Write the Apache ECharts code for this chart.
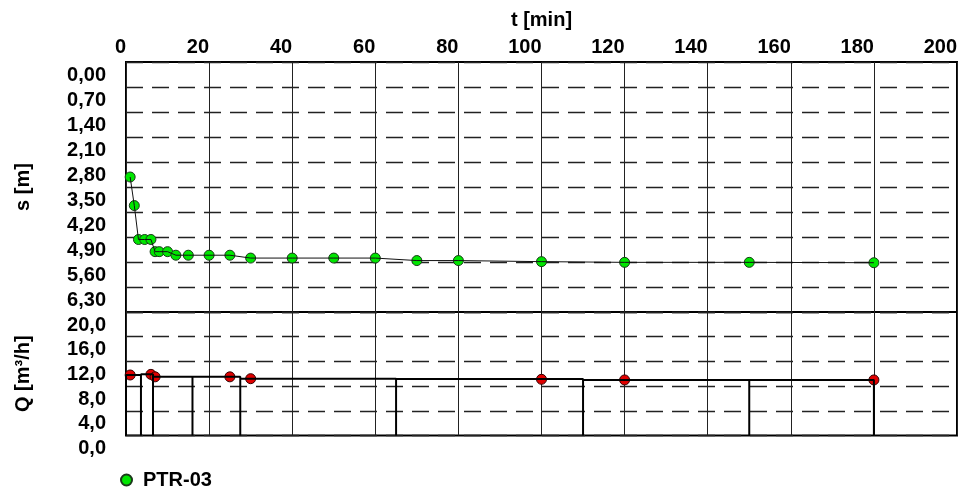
<!DOCTYPE html>
<html>
<head>
<meta charset="utf-8">
<script src="https://cdn.jsdelivr.net/npm/echarts@6/dist/echarts.min.js"></script>
<style>html,body{margin:0;padding:0;background:#fff}#c{width:961px;height:487px}</style>
</head>
<body>
<div id="c"></div>
<script>
// ---- data ----
const seriesName = 'PTR-03';
// drawdown s [m] vs time t [min]
const tMin = [1, 2, 3, 4.5, 6, 7, 8, 10, 12, 15, 20, 25, 30, 40, 50, 60, 70, 80, 100, 120, 150, 180];
const sM   = [3.22, 4.02, 4.97, 4.97, 4.97, 5.31, 5.31, 5.31, 5.41, 5.41, 5.41, 5.41, 5.49, 5.49, 5.49, 5.49, 5.56, 5.56, 5.59, 5.61, 5.61, 5.62];
// discharge Q [m3/h] measurements
const qT = [1, 6, 7, 25, 30, 100, 120, 180];
const qV = [9.8, 9.9, 9.5, 9.5, 9.2, 9.1, 9.0, 9.0];
// discharge step periods (end time of each period and its rate)
const qStepEnd   = [3.6, 6.5, 16, 27.5, 65, 110, 150, 180];
const qStepLevel = [9.8, 9.9, 9.5, 9.5, 9.2, 9.15, 9.0, 9.0];
// axis ticks
const tTicks = {min: 0, max: 200, interval: 20};
const sTicks = {min: 0, max: 7, interval: 0.7};
const qTicks = {min: 0, max: 20, interval: 4};

// ---- build ----
const sData = tMin.map((t, i) => [t, sM[i]]);
const qData = qT.map((t, i) => [t, qV[i]]);
const stepData = [[0, 0], [0, qStepLevel[0]]];
qStepEnd.forEach((e, i) => {
  stepData.push([e, qStepLevel[i]]);
  stepData.push([e, 0]);
  if (i + 1 < qStepEnd.length) stepData.push([e, qStepLevel[i + 1]]);
});

const FONT = 'Liberation Sans, Arial, sans-serif';
const txt = {fontFamily: FONT, fontWeight: 'bold', fontSize: 20, color: '#000'};
const dashed = {show: true, lineStyle: {color: '#222', width: 1.3, type: [17, 9]}};
const solid = {show: true, lineStyle: {color: '#222', width: 1, type: 'solid'}};

const chart = echarts.init(document.getElementById('c'), null, {renderer: 'canvas'});
chart.setOption({
  animation: false,
  backgroundColor: '#fff',
  grid: [
    {left: 126, top: 62, width: 831, height: 250, show: true, borderColor: '#000', borderWidth: 2, backgroundColor: 'transparent'},
    {left: 126, top: 312, width: 831, height: 123.5, show: true, borderColor: '#000', borderWidth: 2, backgroundColor: 'transparent'}
  ],
  legend: {
    data: [seriesName],
    left: 115, top: 465,
    icon: 'circle', itemWidth: 11, itemHeight: 11,
    textStyle: Object.assign({}, txt, {padding: [0, 0, 0, 6]})
  },
  xAxis: [
    {gridIndex: 0, type: 'value', position: 'top', min: tTicks.min, max: tTicks.max, interval: tTicks.interval,
     name: 't [min]', nameLocation: 'middle', nameGap: 32, nameTextStyle: txt,
     axisLine: {show: false}, axisTick: {show: false}, splitLine: solid,
     axisLabel: Object.assign({}, txt, {align: 'right', margin: 5, showMinLabel: true, showMaxLabel: true, hideOverlap: false})},
    {gridIndex: 1, type: 'value', position: 'bottom', min: tTicks.min, max: tTicks.max, interval: tTicks.interval,
     axisLine: {show: false}, axisTick: {show: false}, axisLabel: {show: false}, splitLine: solid}
  ],
  yAxis: [
    {gridIndex: 0, type: 'value', inverse: true, min: sTicks.min, max: sTicks.max, interval: sTicks.interval,
     name: 's [m]', nameLocation: 'middle', nameGap: 93, nameTextStyle: txt,
     axisLine: {show: false}, axisTick: {show: false}, splitLine: dashed,
     axisLabel: Object.assign({}, txt, {margin: 20, verticalAlign: 'top', padding: [3, 0, 0, 0], lineHeight: 20, hideOverlap: false,
       showMinLabel: true, showMaxLabel: true,
       formatter: v => (Math.abs(v - sTicks.max) < 1e-6 ? '' : v.toFixed(2).replace('.', ','))})},
    {gridIndex: 1, type: 'value', min: qTicks.min, max: qTicks.max, interval: qTicks.interval,
     name: 'Q [m³/h]', nameLocation: 'middle', nameGap: 93, nameTextStyle: txt,
     axisLine: {show: false}, axisTick: {show: false}, splitLine: dashed,
     axisLabel: Object.assign({}, txt, {margin: 20, verticalAlign: 'top', padding: [3, 0, 0, 0], lineHeight: 20, hideOverlap: false,
       showMinLabel: true, showMaxLabel: true,
       formatter: v => v.toFixed(1).replace('.', ',')})}
  ],
  series: [
    {name: seriesName, type: 'scatter', xAxisIndex: 0, yAxisIndex: 0, data: sData, symbol: 'circle', symbolSize: 10, z: 3,
     itemStyle: {color: '#00e600', borderColor: '#1a3a1a', borderWidth: 1, opacity: 1}},
    {name: 'sLine', type: 'line', xAxisIndex: 0, yAxisIndex: 0, data: sData, showSymbol: false, symbol: 'none', z: 4,
     lineStyle: {color: '#111', width: 1}},
    {name: 'Qpts', type: 'scatter', xAxisIndex: 1, yAxisIndex: 1, data: qData, symbol: 'circle', symbolSize: 10, z: 3,
     itemStyle: {color: '#e00000', borderColor: '#300', borderWidth: 1, opacity: 1}},
    {name: 'Qstep', type: 'line', xAxisIndex: 1, yAxisIndex: 1, data: stepData, showSymbol: false, symbol: 'none', z: 4,
     lineStyle: {color: '#000', width: 2}}
  ]
});
</script>
</body>
</html>
